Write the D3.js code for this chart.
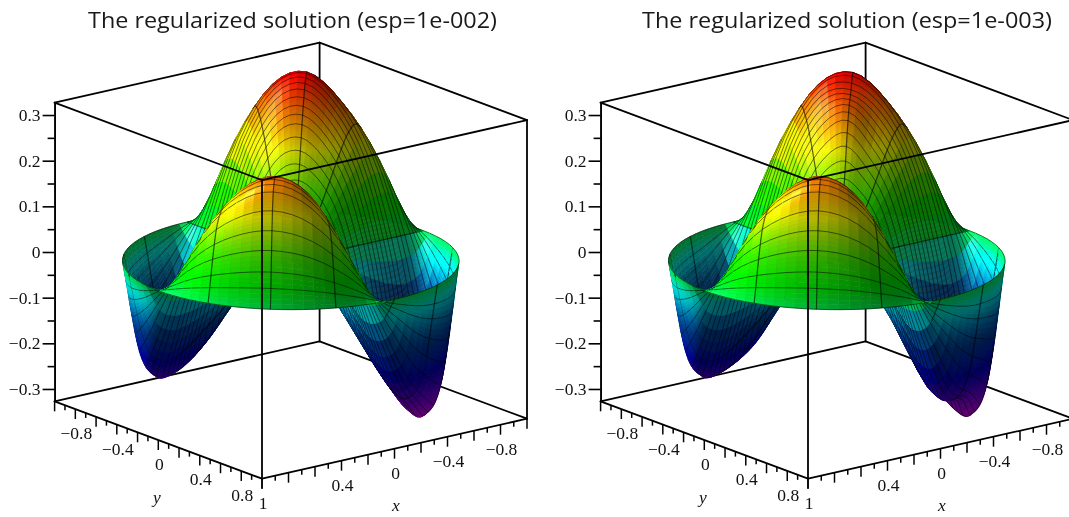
<!DOCTYPE html>
<html>
<head>
<meta charset="utf-8">
<script src="https://cdn.jsdelivr.net/npm/d3@7"></script>
<style>
  html, body { margin: 0; padding: 0; background: #fff; overflow: hidden; }
  svg { display: block; filter: blur(0.6px); }
</style>
</head>
<body>
<div id="chart"></div>
<script>
var titles = ["The regularized solution (esp=1e-002)", "The regularized solution (esp=1e-003)"];

// grid of the surface: rows are radius, columns are angle
var gridRadius = [0, 0.1, 0.2, 0.3, 0.4, 0.5, 0.6, 0.7, 0.8, 0.9, 1];
var gridAngle = [0, 15, 30, 45, 60, 75, 90, 105, 120, 135, 150, 165, 180, 195, 210, 225, 240, 255, 270, 285, 300, 315, 330, 345];

var zGridA = [
  [0,0,0,0,0,0, 0,0,0,0,0,0, 0,0,0,0,0,0, 0,0,0,0,0,0],
  [0,.006,.009,.011,.009,.006, 0,-.007,-.012,-.013,-.012,-.007, 0,.007,.012,.013,.012,.007, 0,-.006,-.009,-.011,-.009,-.006],
  [0,.020,.032,.037,.032,.020, 0,-.025,-.040,-.046,-.040,-.025, 0,.025,.040,.046,.040,.025, 0,-.020,-.032,-.037,-.032,-.020],
  [0,.041,.065,.074,.065,.035, 0,-.055,-.081,-.092,-.081,-.050, 0,.045,.078,.092,.085,.055, 0,-.050,-.072,-.074,-.065,-.041],
  [0,.065,.104,.118,.100,.050, -.015,-.095,-.130,-.147,-.130,-.081, 0,.075,.122,.147,.137,.087, 0,-.085,-.125,-.125,-.104,-.065],
  [0,.093,.148,.168,.144,.070, -.030,-.135,-.184,-.209,-.184,-.115, 0,.105,.172,.209,.195,.125, 0,-.115,-.175,-.180,-.148,-.093],
  [0,.119,.189,.216,.184,.090, -.050,-.175,-.236,-.268,-.236,-.148, 0,.136,.221,.268,.250,.160, 0,-.150,-.215,-.225,-.189,-.119],
  [0,.139,.222,.252,.216,.105, -.070,-.210,-.276,-.314,-.276,-.173, 0,.160,.260,.314,.290,.185, 0,-.175,-.245,-.255,-.222,-.139],
  [0,.145,.231,.263,.225,.110, -.070,-.215,-.288,-.327,-.288,-.180, 0,.165,.270,.327,.300,.190, 0,-.180,-.250,-.263,-.231,-.145],
  [0,.113,.180,.205,.175,.085, -.050,-.165,-.225,-.255,-.225,-.140, 0,.130,.210,.255,.235,.150, 0,-.130,-.190,-.205,-.180,-.113],
  [0,0,0,0,0,0, 0,0,0,0,0,0, 0,0,0,0,0,0, 0,0,0,0,0,0]
];

var zGridB = [
  [0,0,0,0,0,0, 0,0,0,0,0,0, 0,0,0,0,0,0, 0,0,0,0,0,0],
  [0,.006,.009,.011,.009,.006, 0,-.007,-.012,-.013,-.012,-.007, 0,.007,.012,.013,.012,.007, 0,-.006,-.009,-.011,-.009,-.006],
  [0,.020,.032,.037,.032,.020, 0,-.025,-.040,-.046,-.040,-.025, 0,.025,.040,.046,.040,.025, 0,-.020,-.032,-.037,-.032,-.020],
  [0,.041,.065,.074,.065,.035, 0,-.058,-.085,-.092,-.081,-.050, 0,.045,.078,.093,.085,.055, 0,-.055,-.078,-.074,-.065,-.041],
  [0,.065,.104,.118,.100,.050, -.020,-.100,-.135,-.147,-.130,-.081, 0,.075,.122,.152,.137,.087, 0,-.090,-.135,-.125,-.104,-.065],
  [0,.093,.148,.168,.144,.070, -.040,-.150,-.195,-.209,-.184,-.115, 0,.105,.172,.220,.195,.125, 0,-.125,-.190,-.180,-.148,-.093],
  [0,.119,.189,.216,.184,.090, -.060,-.200,-.245,-.268,-.236,-.148, 0,.136,.218,.272,.248,.160, 0,-.180,-.230,-.225,-.189,-.119],
  [0,.139,.222,.252,.216,.105, -.085,-.240,-.258,-.314,-.276,-.173, 0,.160,.255,.300,.285,.185, 0,-.215,-.255,-.255,-.222,-.139],
  [0,.145,.231,.263,.225,.110, -.085,-.240,-.270,-.327,-.288,-.180, 0,.165,.270,.327,.300,.190, 0,-.215,-.262,-.263,-.231,-.145],
  [0,.113,.180,.205,.175,.085, -.060,-.170,-.220,-.255,-.225,-.140, 0,.130,.210,.255,.235,.150, 0,-.150,-.200,-.205,-.180,-.113],
  [0,0,0,0,0,0, 0,0,0,0,0,0, 0,0,0,0,0,0, 0,0,0,0,0,0]
];

var zMajorTicks = [-0.3, -0.2, -0.1, 0, 0.1, 0.2, 0.3];
var zMinorTicks = [-0.25, -0.15, -0.05, 0.05, 0.15, 0.25];
var baseMajorTicks = [-1, -0.8, -0.6, -0.4, -0.2, 0, 0.2, 0.4, 0.6, 0.8, 1];
var baseMinorTicks = [-0.9, -0.7, -0.5, -0.3, -0.1, 0.1, 0.3, 0.5, 0.7, 0.9];
var xLabels = [-0.8, -0.4, 0, 0.4, 1];
var yLabels = [-0.8, -0.4, 0, 0.4, 0.8];

// colour ramp of the surface, height against hue
var hueHeights = [0.327, 0.2, 0.1, 0.03, 0, -0.03, -0.1, -0.2, -0.327];
var hueValues = [0, 55, 105, 125, 140, 172, 205, 240, 295];

// extra darkening of the low part, height against factor
var darkHeights = [-0.03, -0.13, -0.22, -0.327];
var darkValues = [1, 0.62, 0.8, 1];

// where the black mesh lines run on the surface
var meshRadius = [0.1, 0.2, 0.28, 0.33, 0.38, 0.43, 0.47, 0.51, 0.55, 0.58, 0.61, 0.64, 0.67, 0.7, 0.73, 0.76, 0.8, 0.83, 0.86, 0.9, 0.925, 0.945, 0.965, 0.98, 1];
var meshAngleStep = 22.5;

var width = 1069, height = 517;
var zMax = 0.327;
var zTop = 102.7, zBottom = 401.3;

// box corners on screen, bottom face
var leftX = 54.6, frontX = 262, rightX = 527;
var leftY = 401.3, frontY = 478.7, rightY = 418.7;

var zScale = d3.scaleLinear().domain([-zMax, zMax]).range([zBottom, zTop]);
var xEdgeX = d3.scaleLinear().domain([1, -1]).range([frontX, rightX]);
var xEdgeY = d3.scaleLinear().domain([1, -1]).range([frontY, rightY]);
var yEdgeX = d3.scaleLinear().domain([-1, 1]).range([leftX, frontX]);
var yEdgeY = d3.scaleLinear().domain([-1, 1]).range([leftY, frontY]);
var hueScale = d3.scaleLinear().domain(hueHeights).range(hueValues).clamp(true);
var darkScale = d3.scaleLinear().domain(darkHeights).range(darkValues).clamp(true);

var centerX = (leftX + rightX) / 2;

function project(x, y, z) {
  // position over the floor, then lifted by z
  var sx = centerX + (xEdgeX(x) - xEdgeX(0)) + (yEdgeX(y) - yEdgeX(0));
  var sy = (leftY + rightY) / 2 + (xEdgeY(x) - xEdgeY(0)) + (yEdgeY(y) - yEdgeY(0)) - (zBottom - zScale(z));
  return [sx, sy];
}

var zWorld = 2.84;
var viewDir = [0.589, 0.753, 0.291];
var rightDir = [-0.787, 0.616, 0];
var upDir = [-0.178, -0.23, 0.957];

function normalize(v) {
  var n = Math.sqrt(v[0] * v[0] + v[1] * v[1] + v[2] * v[2]) || 1;
  return [v[0] / n, v[1] / n, v[2] / n];
}
function dot(a, b) { return a[0] * b[0] + a[1] * b[1] + a[2] * b[2]; }
function cross(a, b) {
  return [a[1] * b[2] - a[2] * b[1], a[2] * b[0] - a[0] * b[2], a[0] * b[1] - a[1] * b[0]];
}
function combine(a, b, c) {
  return [0, 1, 2].map(function(i) { return a * rightDir[i] + b * upDir[i] + c * viewDir[i]; });
}

var lightDir = normalize(combine(-0.75, 0.6, 0.3));
var halfDir = normalize([lightDir[0] + viewDir[0], lightDir[1] + viewDir[1], lightDir[2] + viewDir[2]]);

// smooth curve through the read values, only so the patches do not look faceted
function catmull(p0, p1, p2, p3, t) {
  return 0.5 * (2 * p1 + (p2 - p0) * t + (2 * p0 - 5 * p1 + 4 * p2 - p3) * t * t + (3 * p1 - p0 - 3 * p2 + p3) * t * t * t);
}

function surfaceZ(grid, r, angle) {
  var nA = gridAngle.length, nR = gridRadius.length;
  var fa = ((angle % 360) + 360) % 360 / 15;
  var ia = Math.floor(fa), ta = fa - ia;
  var fr = r / 0.1;
  var ir = Math.min(Math.floor(fr), nR - 2), tr = fr - ir;
  function along(row) {
    return catmull(row[(ia - 1 + nA) % nA], row[ia % nA], row[(ia + 1) % nA], row[(ia + 2) % nA], ta);
  }
  var v1 = along(grid[ir]), v2 = along(grid[ir + 1]);
  var v0 = ir > 0 ? along(grid[ir - 1]) : 2 * v1 - v2;
  var v3 = ir + 2 < nR ? along(grid[ir + 2]) : 2 * v2 - v1;
  return catmull(v0, v1, v2, v3, tr);
}

// patches are thin near the rim, where the colour changes fast
var patchRadius = [0];
var patchIsMesh = [false];
meshRadius.forEach(function(r, i) {
  var prev = i ? meshRadius[i - 1] : 0;
  var step = r > 0.8 ? 0.006 : r > 0.45 ? 0.009 : 0.02;
  var n = Math.ceil((r - prev) / step);
  for (var k = 1; k <= n; k++) {
    patchRadius.push(prev + (r - prev) * k / n);
    patchIsMesh.push(k === n);
  }
});
var patchPerMesh = 6;
var patchAngleCount = 16 * patchPerMesh;

function surfaceItems(grid) {
  var nodes = patchRadius.map(function(r) {
    return d3.range(patchAngleCount).map(function(k) {
      var angle = k * meshAngleStep / patchPerMesh;
      var rad = angle * Math.PI / 180;
      var x = r * Math.cos(rad), y = r * Math.sin(rad);
      var z = r >= 1 ? 0 : surfaceZ(grid, r, angle);
      return {x: x, y: y, z: z, s: project(x, y, z), w: [x, y, z * zWorld]};
    });
  });
  var items = [];
  function depth(p) { return dot(p.w, viewDir); }
  function sub(a, b) { return [a.w[0] - b.w[0], a.w[1] - b.w[1], a.w[2] - b.w[2]]; }
  for (var i = 0; i < patchRadius.length - 1; i++) {
    for (var k = 0; k < patchAngleCount; k++) {
      var k2 = (k + 1) % patchAngleCount;
      var a = nodes[i][k], b = nodes[i][k2], c = nodes[i + 1][k2], d = nodes[i + 1][k];
      var n = normalize(cross(sub(c, a), sub(d, b)));
      if (dot(n, viewDir) < 0) n = [-n[0], -n[1], -n[2]];
      var nl = Math.max(0, dot(n, lightDir));
      var spec = Math.pow(Math.max(0, dot(n, halfDir)), 60) * 0.3;
      var zc = (a.z + b.z + c.z + d.z) / 4;
      var shade = (0.44 + 0.76 * nl) * darkScale(zc);
      var base = d3.rgb(d3.hsl(hueScale(zc), 1, 0.5));
      var colour = d3.rgb(base.r * shade + 255 * spec, base.g * shade + 255 * spec, base.b * shade + 255 * spec);
      var dp = (depth(a) + depth(b) + depth(c) + depth(d)) / 4;
      items.push({
        depth: dp,
        fill: colour.formatHex(),
        d: "M" + [a, b, c, d].map(function(p) { return p.s[0].toFixed(2) + "," + p.s[1].toFixed(2); }).join("L") + "Z"
      });
      if (patchIsMesh[i + 1]) {
        items.push({depth: (depth(c) + depth(d)) / 2 + 0.03, line: 0.85,
          d: "M" + d.s[0].toFixed(2) + "," + d.s[1].toFixed(2) + "L" + c.s[0].toFixed(2) + "," + c.s[1].toFixed(2)});
      }
      if (k % patchPerMesh === 0) {
        items.push({depth: (depth(a) + depth(d)) / 2 + 0.03, line: 1.2,
          d: "M" + a.s[0].toFixed(2) + "," + a.s[1].toFixed(2) + "L" + d.s[0].toFixed(2) + "," + d.s[1].toFixed(2)});
      }
    }
  }
  items.sort(function(p, q) { return p.depth - q.depth; });
  return items;
}

function segment(g, x1, y1, x2, y2) {
  g.append("line").attr("x1", x1).attr("y1", y1).attr("x2", x2).attr("y2", y2)
    .attr("stroke", "#000").attr("stroke-width", 1.8).attr("stroke-linecap", "round");
}

function drawPanel(svg, offset, grid, title, titleX, titleWidth) {
  var g = svg.append("g").attr("transform", "translate(" + offset + ",0)");

  var lift = zBottom - zTop;
  var backX = leftX + rightX - frontX, backY = leftY + rightY - frontY;

  // back of the box, behind the surface
  segment(g, leftX, leftY, backX, backY);
  segment(g, rightX, rightY, backX, backY);
  segment(g, backX, backY, backX, backY - lift);
  segment(g, leftX, leftY - lift, backX, backY - lift);
  segment(g, rightX, rightY - lift, backX, backY - lift);

  g.append("g").selectAll("path")
    .data(surfaceItems(grid))
    .join("path")
    .attr("d", function(d) { return d.d; })
    .attr("fill", function(d) { return d.line ? "none" : d.fill; })
    .attr("stroke", function(d) { return d.line ? "#000" : d.fill; })
    .attr("stroke-width", function(d) { return d.line ? d.line : 0.6; })
    .attr("stroke-opacity", function(d) { return d.line ? 0.62 : 1; });

  // front of the box
  segment(g, leftX, leftY - lift, frontX, frontY - lift);
  segment(g, rightX, rightY - lift, frontX, frontY - lift);
  segment(g, frontX, frontY - lift, frontX, frontY);
  segment(g, rightX, rightY - lift, rightX, rightY);
  segment(g, leftX, leftY, frontX, frontY);
  segment(g, rightX, rightY, frontX, frontY);

  // z axis
  var zAxisMinor = g.append("g").attr("transform", "translate(" + leftX + ",0)")
    .call(d3.axisLeft(zScale).tickValues(zMinorTicks).tickSize(7).tickSizeOuter(0).tickFormat(""));
  var zAxis = g.append("g").attr("transform", "translate(" + leftX + ",0)")
    .call(d3.axisLeft(zScale).tickValues(zMajorTicks).tickSize(12).tickSizeOuter(0).tickPadding(2)
      .tickFormat(function(d) { return d === 0 ? "0" : d3.format(".1f")(d); }));
  [zAxisMinor, zAxis].forEach(function(a) {
    a.selectAll("line, path").attr("stroke", "#000").attr("stroke-width", 1.6);
    a.selectAll("text").attr("fill", "#111").style("font", "17.5px 'Liberation Serif'");
  });

  // floor edges: ticks hang straight down
  function ticks(values, ex, ey, len) {
    g.append("g").selectAll("line").data(values).join("line")
      .attr("x1", ex).attr("x2", ex)
      .attr("y1", ey).attr("y2", function(d) { return ey(d) + len; })
      .attr("stroke", "#000").attr("stroke-width", 1.5);
  }
  ticks(baseMajorTicks, yEdgeX, yEdgeY, 10);
  ticks(baseMinorTicks, yEdgeX, yEdgeY, 5);
  ticks(baseMajorTicks, xEdgeX, xEdgeY, 10);
  ticks(baseMinorTicks, xEdgeX, xEdgeY, 5);

  function tickLabels(values, ex, ey) {
    g.append("g").selectAll("text").data(values).join("text")
      .attr("x", function(d) { return ex(d) + 1; })
      .attr("y", function(d) { return ey(d) + 30; })
      .attr("text-anchor", "middle")
      .attr("fill", "#111")
      .style("font", "17.5px 'Liberation Serif'")
      .text(function(d) { return d === 0 ? "0" : d === 1 ? "1" : d3.format(".1f")(d); });
  }
  tickLabels(yLabels, yEdgeX, yEdgeY);
  tickLabels(xLabels, xEdgeX, xEdgeY);

  g.append("text").attr("x", 157).attr("y", 503).attr("text-anchor", "middle")
    .style("font", "italic 17.5px 'Liberation Serif'").attr("fill", "#111").text("y");
  g.append("text").attr("x", 396).attr("y", 511).attr("text-anchor", "middle")
    .style("font", "italic 17.5px 'Liberation Serif'").attr("fill", "#111").text("x");

  svg.append("text")
    .attr("x", titleX).attr("y", 28)
    .attr("textLength", titleWidth).attr("lengthAdjust", "spacingAndGlyphs")
    .style("font", "22.5px 'Open Sans'")
    .attr("fill", "#1a1a1a")
    .text(title);
}

var svg = d3.select("#chart").append("svg")
  .attr("width", width)
  .attr("height", height);

drawPanel(svg, 0, zGridA, titles[0], 88, 409);
drawPanel(svg, 546, zGridB, titles[1], 642, 410);
</script>
</body>
</html>
